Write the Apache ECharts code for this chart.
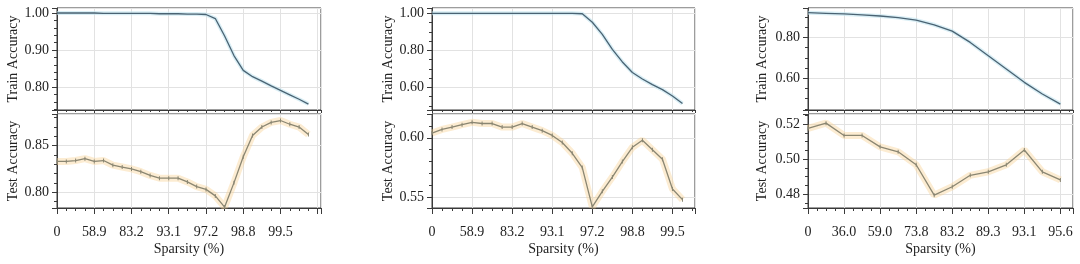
<!DOCTYPE html>
<html>
<head>
<meta charset="utf-8">
<script src="https://cdn.jsdelivr.net/npm/echarts@6/dist/echarts.min.js"></script>
<style>
html, body { margin: 0; padding: 0; background: #fff; }
#chart { width: 1080px; height: 264px; }
</style>
</head>
<body>
<div id="chart"></div>
<script>
// x = pruning round, tick labels are the sparsity reached at that round
const sparsityLabelsA = ['0', '58.9', '83.2', '93.1', '97.2', '98.8', '99.5'];
const sparsityLabelsB = ['0', '58.9', '83.2', '93.1', '97.2', '98.8', '99.5'];
const sparsityLabelsC = ['0', '36.0', '59.0', '73.8', '83.2', '89.3', '93.1', '95.6'];

const trainA = [1.000, 1.000, 1.000, 1.000, 1.000, 0.999, 0.999, 0.999, 0.999, 0.999,
  0.999, 0.998, 0.998, 0.998, 0.997, 0.997, 0.996, 0.985, 0.938, 0.885,
  0.845, 0.828, 0.816, 0.803, 0.791, 0.779, 0.767, 0.754];
const testA = [0.833, 0.833, 0.834, 0.836, 0.833, 0.834, 0.829, 0.827, 0.825, 0.822,
  0.818, 0.815, 0.815, 0.815, 0.811, 0.806, 0.803, 0.796, 0.784, 0.810,
  0.838, 0.861, 0.870, 0.875, 0.877, 0.873, 0.870, 0.862];

const trainB = [1.000, 1.000, 1.000, 1.000, 1.000, 1.000, 1.000, 1.000, 1.000, 1.000,
  1.000, 1.000, 1.000, 1.000, 1.000, 0.998, 0.952, 0.886, 0.805, 0.737,
  0.680, 0.645, 0.614, 0.587, 0.553, 0.512];
const testB = [0.604, 0.607, 0.609, 0.611, 0.613, 0.612, 0.612, 0.609, 0.609, 0.612,
  0.609, 0.606, 0.602, 0.596, 0.587, 0.575, 0.542, 0.555, 0.567, 0.580,
  0.592, 0.598, 0.590, 0.582, 0.557, 0.548];

const trainC = [0.920, 0.917, 0.914, 0.909, 0.904, 0.896, 0.884, 0.861, 0.830, 0.775,
  0.710, 0.645, 0.580, 0.523, 0.474];
const testC = [0.5175, 0.5205, 0.5135, 0.5135, 0.5070, 0.5042, 0.4968, 0.4795, 0.4843, 0.4908,
  0.4928, 0.4968, 0.5052, 0.4928, 0.4882];

const FONT = 'Liberation Serif';
const TXT = '#222';
const AXIS = '#3a3a3a';
const GRIDLINE = '#e2e2e2';

const panels = [
  { left: 57, width: 264, xMax: 28.35, step: 4, labels: sparsityLabelsA, train: trainA, test: testA,
    trainY: [0.738, 1.0135, 0.1, 5], testY: [0.783, 0.884, 0.05, 5], gap: 37 },
  { left: 432, width: 263, xMax: 26.25, step: 4, labels: sparsityLabelsB, train: trainB, test: testB,
    trainY: [0.477, 1.029, 0.2, 4], testY: [0.541, 0.620, 0.05, 5], gap: 37 },
  { left: 808, width: 265, xMax: 14.7, step: 2, labels: sparsityLabelsC, train: trainC, test: testC,
    trainY: [0.445, 0.943, 0.2, 4], testY: [0.4722, 0.5257, 0.02, 4], gap: 39 }
];

const grid = [], xAxis = [], yAxis = [], series = [];

function addPlot(p, isTop) {
  const k = grid.length;
  const yr = isTop ? p.trainY : p.testY;
  const values = isTop ? p.train : p.test;
  grid.push({
    left: p.left, width: p.width,
    top: isTop ? 8 : 114, height: isTop ? 102 : 94,
    show: true, borderColor: AXIS, borderWidth: 1, backgroundColor: 'transparent'
  });
  xAxis.push({
    type: 'value', gridIndex: k, min: 0, max: p.xMax, interval: p.step,
    axisLine: { show: true, lineStyle: { color: AXIS } },
    axisTick: { show: true, inside: false, length: isTop ? 3 : 6, lineStyle: { color: AXIS } },
    minorTick: { show: true, splitNumber: 4, length: isTop ? 2 : 3, lineStyle: { color: AXIS } },
    splitLine: { show: true, lineStyle: { color: GRIDLINE, width: 1 } },
    axisLabel: {
      show: !isTop, margin: 17, color: TXT, fontFamily: FONT, fontSize: 14,
      formatter: v => {
        const i = v / p.step;
        if (Math.abs(i - Math.round(i)) > 1e-6) return '';
        return p.labels[Math.round(i)] || '';
      }
    },
    name: isTop ? '' : 'Sparsity (%)',
    nameLocation: 'middle', nameGap: 34,
    nameTextStyle: { color: TXT, fontFamily: FONT, fontSize: 14 }
  });
  yAxis.push({
    type: 'value', gridIndex: k, min: yr[0], max: yr[1],
    minInterval: yr[2], maxInterval: yr[2],
    axisLine: { show: true, lineStyle: { color: AXIS } },
    axisTick: { show: true, inside: false, length: 5, lineStyle: { color: AXIS } },
    minorTick: { show: true, splitNumber: yr[3], length: 3, lineStyle: { color: AXIS } },
    splitLine: { show: true, lineStyle: { color: GRIDLINE, width: 1 } },
    axisLabel: {
      margin: 8, color: TXT, fontFamily: FONT, fontSize: 14,
      showMinLabel: false, showMaxLabel: false,
      formatter: v => v.toFixed(2)
    },
    name: isTop ? 'Train Accuracy' : 'Test Accuracy',
    nameLocation: 'middle', nameGap: p.gap, nameRotate: 90,
    nameTextStyle: { color: TXT, fontFamily: FONT, fontSize: 14 }
  });
  const pts = values.map((v, i) => [i, v]);
  // soft band under the mean curve
  series.push({
    type: 'line', xAxisIndex: k, yAxisIndex: k, data: pts, symbol: 'none', silent: true, z: 1,
    lineStyle: isTop ? { color: '#bfe3ee', width: 4, opacity: 0.6 } : { color: '#f7cf8e', width: 7, opacity: 0.4 }
  });
  series.push({
    type: 'line', xAxisIndex: k, yAxisIndex: k, data: pts, z: 3,
    symbol: isTop ? 'none' : 'rect', symbolSize: [1, 4],
    itemStyle: { color: isTop ? '#4a6373' : '#8a8672' },
    lineStyle: { color: isTop ? '#4a6373' : '#8a8672', width: 1.3 }
  });
}

panels.forEach(p => { addPlot(p, true); addPlot(p, false); });

const chart = echarts.init(document.getElementById('chart'));
chart.setOption({
  animation: false,
  backgroundColor: '#fff',
  grid, xAxis, yAxis, series
});
</script>
</body>
</html>
